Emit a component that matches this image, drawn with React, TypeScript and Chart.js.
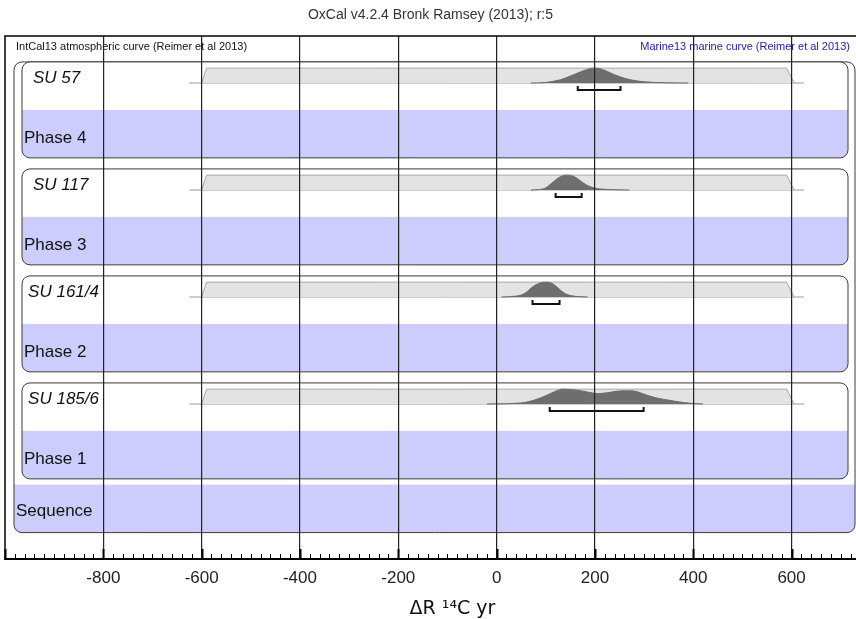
import React, { useEffect, useRef } from 'react';
import { Chart, registerables } from 'chart.js';

Chart.register(...registerables);

// ---------- text ----------
const TITLE = 'OxCal v4.2.4 Bronk Ramsey (2013); r:5';
const X_TITLE = 'ΔR ¹⁴C yr';
const LEFT_NOTE = 'IntCal13 atmospheric curve (Reimer et al 2013)';
const RIGHT_NOTE = 'Marine13 marine curve (Reimer et al 2013)';

// ---------- axis ----------
const X_MIN = -1000;
const X_MAX = 731;
const TICK_LABELS = [-800, -600, -400, -200, 0, 200, 400, 600];
const MINOR_STEP = 20;
const MAJOR_STEP = 200;

// ---------- rows ----------
const SAMPLES = ['SU 57', 'SU 117', 'SU 161/4', 'SU 185/6'];
const PHASES = ['Phase 4', 'Phase 3', 'Phase 2', 'Phase 1'];
const SEQUENCE = 'Sequence';

// ---------- prior (uniform ΔR) ----------
const PRIOR_X = [-600, -590, 590, 605];
const PRIOR_H = [0, 1, 1, 0];
const PRIOR_LINE_X = [-625, 625];

// ---------- posteriors (relative probability) ----------
const POST_SU57_X = [70, 100, 130, 145, 160, 175, 190, 200, 210, 225, 240, 260, 280, 300, 320, 350, 390];
const POST_SU57_P = [0, 0.04, 0.22, 0.4, 0.6, 0.8, 0.96, 1.0, 0.96, 0.78, 0.55, 0.32, 0.17, 0.08, 0.04, 0.015, 0];

const POST_SU117_X = [70, 85, 100, 110, 120, 130, 144, 155, 165, 175, 185, 200, 220, 245, 270];
const POST_SU117_P = [0, 0.03, 0.14, 0.4, 0.68, 0.9, 1.0, 0.94, 0.75, 0.5, 0.3, 0.12, 0.05, 0.015, 0];

const POST_SU161_X = [10, 30, 50, 60, 70, 80, 90, 102, 112, 122, 130, 140, 150, 165, 185];
const POST_SU161_P = [0, 0.03, 0.13, 0.3, 0.6, 0.82, 0.96, 1.0, 0.93, 0.7, 0.45, 0.22, 0.1, 0.03, 0];

const POST_SU185_X = [-20, 0, 20, 40, 60, 80, 100, 120, 135, 150, 170, 190, 207, 225, 245, 265, 280, 300, 320, 340, 360, 380, 400, 420];
const POST_SU185_P = [0, 0.01, 0.02, 0.05, 0.12, 0.3, 0.56, 0.86, 1.0, 0.98, 0.9, 0.77, 0.7, 0.76, 0.86, 0.89, 0.87, 0.66, 0.45, 0.31, 0.2, 0.1, 0.03, 0];

const POSTERIORS_X = [POST_SU57_X, POST_SU117_X, POST_SU161_X, POST_SU185_X];
const POSTERIORS_P = [POST_SU57_P, POST_SU117_P, POST_SU161_P, POST_SU185_P];

// ---------- highest posterior density ranges ----------
const RANGE_LO = [165, 120, 73, 108];
const RANGE_HI = [252, 173, 128, 299];

// ---------- layout (row units, y axis reversed) ----------
const Y_MAX = 10.9;
const GROUP_TOP0 = 0.54;
const GROUP_STEP = 2.23;
const SEQ_TOP = 9.35;
const BASE_OFF = 0.44;
const PEAK_H = 0.31;
const BRACKET_OFF = 0.585;
const BRACKET_TICK_OFF = 0.5;

const BLUE = '#cdcdfd';
const FONT = '"Liberation Sans", Arial, Helvetica, sans-serif';

const groupTop = (g: number) => GROUP_TOP0 + g * GROUP_STEP;

function buildDatasets() {
  const ds: any[] = [];
  SAMPLES.forEach((_, g) => {
    const base = groupTop(g) + BASE_OFF;
    ds.push({
      label: 'line' + g,
      data: PRIOR_LINE_X.map((x) => ({ x, y: base })),
      borderColor: '#9a9a9a',
      borderWidth: 1,
      pointRadius: 0,
      fill: false,
      order: 4,
    });
    ds.push({
      label: 'prior' + g,
      data: PRIOR_X.map((x, i) => ({ x, y: base - PRIOR_H[i] * PEAK_H })),
      borderColor: '#a8a8a8',
      backgroundColor: '#e3e3e3',
      borderWidth: 1,
      pointRadius: 0,
      fill: { value: base },
      order: 3,
    });
    ds.push({
      label: 'post' + g,
      data: POSTERIORS_X[g].map((x, i) => ({ x, y: base - POSTERIORS_P[g][i] * PEAK_H })),
      borderColor: '#6a6a6a',
      backgroundColor: '#6e6e6e',
      borderWidth: 1,
      pointRadius: 0,
      cubicInterpolationMode: 'monotone',
      fill: { value: base },
      order: 2,
    });
    const by = groupTop(g) + BRACKET_OFF;
    const ty = groupTop(g) + BRACKET_TICK_OFF;
    ds.push({
      label: 'range' + g,
      data: [
        { x: RANGE_LO[g], y: ty },
        { x: RANGE_LO[g], y: by },
        { x: RANGE_HI[g], y: by },
        { x: RANGE_HI[g], y: ty },
      ],
      borderColor: '#111',
      borderWidth: 2,
      pointRadius: 0,
      fill: false,
      order: 1,
    });
  });
  return ds;
}

function roundRectPath(ctx: CanvasRenderingContext2D, x: number, y: number, w: number, h: number, r: number) {
  ctx.beginPath();
  ctx.moveTo(x + r, y);
  ctx.lineTo(x + w - r, y);
  ctx.arcTo(x + w, y, x + w, y + r, r);
  ctx.lineTo(x + w, y + h - r);
  ctx.arcTo(x + w, y + h, x + w - r, y + h, r);
  ctx.lineTo(x + r, y + h);
  ctx.arcTo(x, y + h, x, y + h - r, r);
  ctx.lineTo(x, y + r);
  ctx.arcTo(x, y, x + r, y, r);
  ctx.closePath();
}

const oxcalPlugin = {
  id: 'oxcal',
  beforeDatasetsDraw(chart: any) {
    const { ctx, chartArea: a, scales } = chart;
    const ys = scales.y;
    const py = (v: number) => ys.getPixelForValue(v);
    ctx.save();
    // Sequence box
    const sL = a.left + 9, sR = a.right - 1;
    const sT = py(groupTop(0)), sB = py(SEQ_TOP + 1);
    ctx.save();
    roundRectPath(ctx, sL, sT, sR - sL, sB - sT, 8);
    ctx.clip();
    ctx.fillStyle = BLUE;
    ctx.fillRect(sL, py(SEQ_TOP), sR - sL, sB - py(SEQ_TOP));
    ctx.restore();
    roundRectPath(ctx, sL, sT, sR - sL, sB - sT, 8);
    ctx.strokeStyle = '#3a3a3a';
    ctx.lineWidth = 1;
    ctx.stroke();
    // Phase boxes
    const pL = a.left + 17, pR = a.right - 8;
    PHASES.forEach((_, g) => {
      const t = py(groupTop(g)), m = py(groupTop(g) + 1), b = py(groupTop(g) + 2);
      ctx.save();
      roundRectPath(ctx, pL, t, pR - pL, b - t, 8);
      ctx.clip();
      ctx.fillStyle = '#ffffff';
      ctx.fillRect(pL, t, pR - pL, m - t);
      ctx.fillStyle = BLUE;
      ctx.fillRect(pL, m, pR - pL, b - m);
      ctx.restore();
      roundRectPath(ctx, pL, t, pR - pL, b - t, 8);
      ctx.strokeStyle = '#3a3a3a';
      ctx.lineWidth = 1;
      ctx.stroke();
    });
    ctx.restore();
  },
  afterDatasetsDraw(chart: any) {
    const { ctx, chartArea: a, scales } = chart;
    const ys = scales.y;
    const py = (v: number) => ys.getPixelForValue(v);
    ctx.save();
    ctx.textBaseline = 'middle';
    ctx.fillStyle = '#111';
    // notes
    ctx.font = `11px ${FONT}`;
    ctx.textAlign = 'left';
    ctx.fillText(LEFT_NOTE, a.left + 11, a.top + 11);
    ctx.fillStyle = '#1c1ca8';
    ctx.textAlign = 'right';
    ctx.fillText(RIGHT_NOTE, a.right - 6, a.top + 11);
    // sample labels
    ctx.fillStyle = '#111';
    ctx.font = `italic 17px ${FONT}`;
    ctx.textAlign = 'left';
    SAMPLES.forEach((s, g) => {
      const w = ctx.measureText(s).width;
      const left = Math.max(a.left + 19, Math.min(a.left + 28, a.left + 94 - w));
      ctx.fillText(s, left, py(groupTop(g)) + 16);
    });
    ctx.font = `17px ${FONT}`;
    PHASES.forEach((p, g) => {
      ctx.fillText(p, a.left + 19, py(groupTop(g) + 1) + 28);
    });
    ctx.fillText(SEQUENCE, a.left + 11, py(SEQ_TOP) + 27);
    ctx.restore();
  },
  afterDraw(chart: any) {
    const { ctx, chartArea: a, scales } = chart;
    const xs = scales.x;
    ctx.save();
    // frame
    ctx.strokeStyle = '#000';
    ctx.lineWidth = 1.5;
    ctx.beginPath();
    ctx.moveTo(a.left, a.bottom);
    ctx.lineTo(a.left, a.top);
    ctx.lineTo(a.right, a.top);
    ctx.stroke();
    // tick marks pointing inward
    for (let v = X_MIN; v <= X_MAX; v += MINOR_STEP) {
      const x = Math.round(xs.getPixelForValue(v)) + 0.5;
      const major = v % MAJOR_STEP === 0;
      ctx.lineWidth = major ? 2 : 1;
      ctx.beginPath();
      ctx.moveTo(x, a.bottom);
      ctx.lineTo(x, a.bottom - (major ? 10 : 5));
      ctx.stroke();
    }
    // axis title
    ctx.fillStyle = '#111';
    ctx.font = '19px "DejaVu Sans", Verdana, sans-serif';
    ctx.textAlign = 'center';
    ctx.textBaseline = 'alphabetic';
    ctx.fillText(X_TITLE, (a.left + a.right) / 2 + 22, a.bottom + 55);
    ctx.restore();
  },
};

export default function App() {
  const ref = useRef<HTMLCanvasElement | null>(null);
  useEffect(() => {
    if (!ref.current) return;
    const chart = new Chart(ref.current, {
      type: 'line',
      data: { datasets: buildDatasets() },
      options: {
        responsive: false,
        maintainAspectRatio: false,
        devicePixelRatio: 1,
        animation: false,
        events: [],
        layout: { padding: { left: 5, right: 0, top: 0, bottom: 30.6 } },
        plugins: {
          legend: { display: false },
          tooltip: { enabled: false },
          title: {
            display: true,
            text: TITLE,
            color: '#333',
            font: { family: FONT, size: 14, weight: 'normal' },
            padding: { top: 7, bottom: 12.2 },
          },
        },
        scales: {
          x: {
            type: 'linear',
            min: X_MIN,
            max: X_MAX,
            grid: {
              z: 1,
              drawTicks: true,
              tickLength: 9,
              tickColor: 'rgba(0,0,0,0)',
              lineWidth: 1.2,
              color: (c: any) => {
                const v = c.tick ? Math.round(c.tick.value) : NaN;
                return TICK_LABELS.includes(v) ? '#222' : 'rgba(0,0,0,0)';
              },
            },
            border: { display: true, color: '#000', width: 2, z: 1 },
            ticks: {
              stepSize: MINOR_STEP,
              autoSkip: false,
              maxRotation: 0,
              includeBounds: false,
              padding: 0,
              color: '#222',
              font: { family: FONT, size: 17 },
              callback: (v: any) => (TICK_LABELS.includes(Math.round(Number(v))) ? String(Math.round(Number(v))) : ''),
            },
          },
          y: {
            type: 'linear',
            display: false,
            reverse: true,
            min: 0,
            max: Y_MAX,
          },
        },
      },
      plugins: [oxcalPlugin],
    } as any);
    return () => chart.destroy();
  }, []);
  return (
    <div style={{ position: 'fixed', left: 0, top: 0, width: 856, height: 619, background: '#fff' }}>
      <canvas ref={ref} width={856} height={619} style={{ display: 'block' }} />
    </div>
  );
}
